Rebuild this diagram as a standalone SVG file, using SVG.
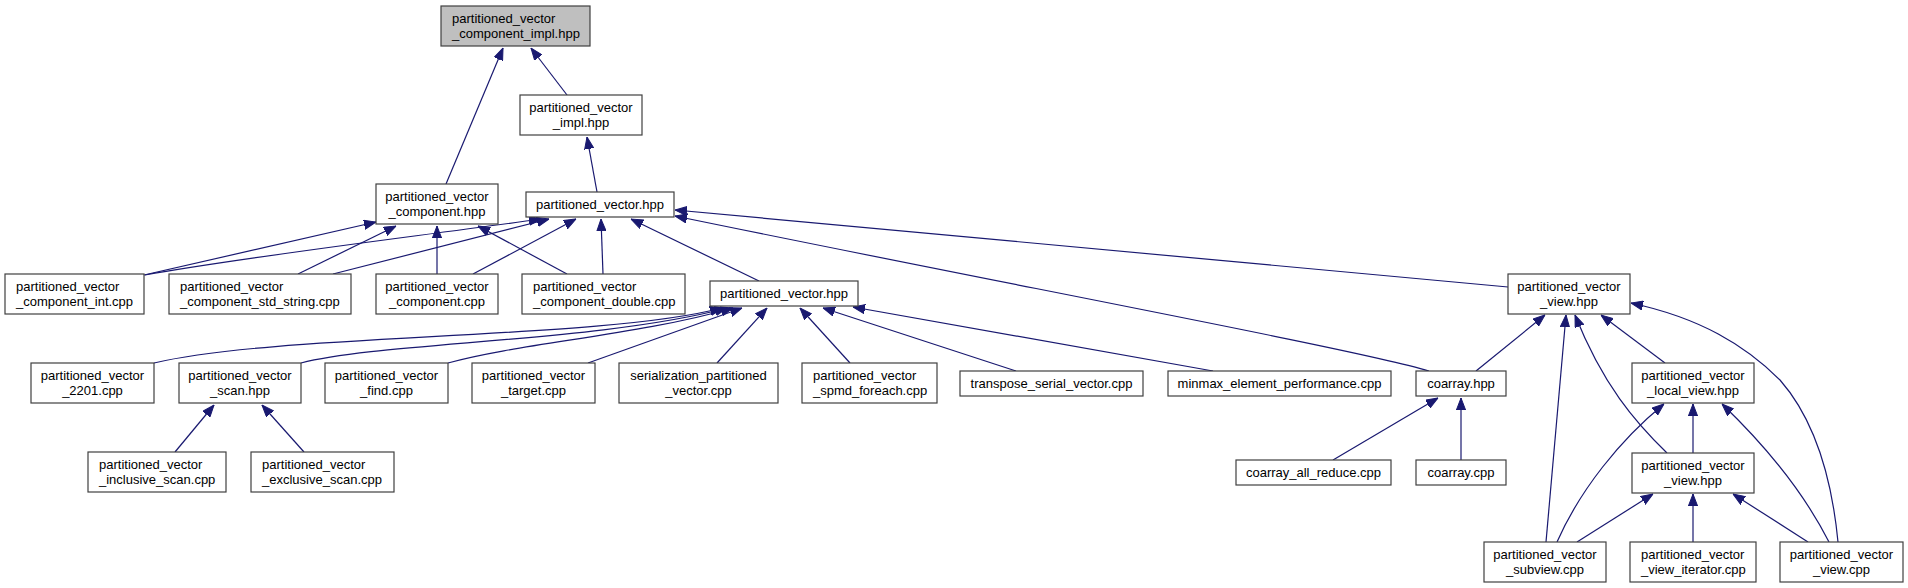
<svg xmlns="http://www.w3.org/2000/svg" width="1908" height="588" viewBox="0 0 1908 588">
<style>
.n rect{fill:#ffffff;stroke:#404040;stroke-width:1.2}
.n.root rect{fill:#bfbfbf}
.n text{font-family:"Liberation Sans",Arial,Helvetica,sans-serif;font-size:13px;fill:#000000}
.c{text-anchor:middle}
.l{text-anchor:start}
.e path{fill:none;stroke:#191970;stroke-width:1.2;marker-end:url(#ah)}
</style>
<defs>
<marker id="ah" markerUnits="userSpaceOnUse" viewBox="0 -5 12 10" refX="12" refY="0" markerWidth="12" markerHeight="10" orient="auto">
<path d="M0,-4.6 L12,0 L0,4.6 z" fill="#191970" stroke="#191970" stroke-width="1"/>
</marker>
</defs>
<rect x="0" y="0" width="1908" height="588" fill="#ffffff"/>
<g id="edges" class="e">
<path d="M446,184 L503,48"/>
<path d="M567,95 L531,48"/>
<path d="M597,192 L587,137"/>
<path d="M144,275 L376,222"/>
<path d="M298,274 L396,226"/>
<path d="M437,274 L437,226"/>
<path d="M567,274 L478,226"/>
<path d="M145,275 C250,256 420,236 541,219"/>
<path d="M333,274 L549,219"/>
<path d="M473,274 L576,219"/>
<path d="M603,274 L601,219"/>
<path d="M759,281 L631,219"/>
<path d="M1508,287 L675,210"/>
<path d="M1429,371 C1360,350 1000,283 675,216"/>
<path d="M154,363 C280,333 600,340 722,308"/>
<path d="M301,363 C380,342 600,342 727,308"/>
<path d="M448,363 C520,343 640,335 733,308"/>
<path d="M588,363 L742,308"/>
<path d="M717,363 L767,308"/>
<path d="M850,363 L800,308"/>
<path d="M1016,371 L823,308"/>
<path d="M1213,371 L853,307"/>
<path d="M175,452 L214,405"/>
<path d="M304,452 L262,405"/>
<path d="M1333,460 L1438,398"/>
<path d="M1461,460 L1461,398"/>
<path d="M1476,371 L1545,315"/>
<path d="M1546,542 L1566,315"/>
<path d="M1667,453 C1635,422 1603,385 1575,315"/>
<path d="M1665,363 L1601,315"/>
<path d="M1838,542 C1832,480 1815,420 1780,380 C1745,345 1700,318 1631,303"/>
<path d="M1557,542 C1580,490 1620,440 1664,404"/>
<path d="M1693,453 L1693,404"/>
<path d="M1829,542 C1805,495 1770,450 1722,404"/>
<path d="M1577,542 L1653,494"/>
<path d="M1693,542 L1693,494"/>
<path d="M1808,542 L1733,494"/>
</g>
<g id="n_root" class="n root"><rect x="441" y="6" width="149" height="40"/><text class="l" x="452" y="23">partitioned_vector</text><text class="l" x="452" y="37.5">_component_impl.hpp</text></g>
<g id="n_pv_impl" class="n"><rect x="520" y="95" width="122" height="40"/><text class="c" x="581" y="112">partitioned_vector</text><text class="c" x="581" y="126.5">_impl.hpp</text></g>
<g id="n_pv_component_hpp" class="n"><rect x="376" y="184" width="122" height="40"/><text class="c" x="437" y="201">partitioned_vector</text><text class="c" x="437" y="215.5">_component.hpp</text></g>
<g id="n_pv_hpp_a" class="n"><rect x="526" y="192" width="148" height="25"/><text class="c" x="600" y="209">partitioned_vector.hpp</text></g>
<g id="n_comp_int" class="n"><rect x="5" y="274" width="139" height="40"/><text class="l" x="16" y="291">partitioned_vector</text><text class="l" x="16" y="305.5">_component_int.cpp</text></g>
<g id="n_comp_std_string" class="n"><rect x="169" y="274" width="182" height="40"/><text class="l" x="180" y="291">partitioned_vector</text><text class="l" x="180" y="305.5">_component_std_string.cpp</text></g>
<g id="n_comp_cpp" class="n"><rect x="376" y="274" width="122" height="40"/><text class="c" x="437" y="291">partitioned_vector</text><text class="c" x="437" y="305.5">_component.cpp</text></g>
<g id="n_comp_double" class="n"><rect x="522" y="274" width="163" height="40"/><text class="l" x="533" y="291">partitioned_vector</text><text class="l" x="533" y="305.5">_component_double.cpp</text></g>
<g id="n_pv_hpp_b" class="n"><rect x="710" y="281" width="148" height="25"/><text class="c" x="784" y="298">partitioned_vector.hpp</text></g>
<g id="n_pv_view_hpp_a" class="n"><rect x="1508" y="274" width="122" height="40"/><text class="c" x="1569" y="291">partitioned_vector</text><text class="c" x="1569" y="305.5">_view.hpp</text></g>
<g id="n_2201" class="n"><rect x="31" y="363" width="123" height="40"/><text class="c" x="92.5" y="380">partitioned_vector</text><text class="c" x="92.5" y="394.5">_2201.cpp</text></g>
<g id="n_scan_hpp" class="n"><rect x="179" y="363" width="122" height="40"/><text class="c" x="240" y="380">partitioned_vector</text><text class="c" x="240" y="394.5">_scan.hpp</text></g>
<g id="n_find" class="n"><rect x="325" y="363" width="123" height="40"/><text class="c" x="386.5" y="380">partitioned_vector</text><text class="c" x="386.5" y="394.5">_find.cpp</text></g>
<g id="n_target" class="n"><rect x="472" y="363" width="123" height="40"/><text class="c" x="533.5" y="380">partitioned_vector</text><text class="c" x="533.5" y="394.5">_target.cpp</text></g>
<g id="n_serialization" class="n"><rect x="619" y="363" width="159" height="40"/><text class="c" x="698.5" y="380">serialization_partitioned</text><text class="c" x="698.5" y="394.5">_vector.cpp</text></g>
<g id="n_spmd" class="n"><rect x="802" y="363" width="135" height="40"/><text class="l" x="813" y="380">partitioned_vector</text><text class="l" x="813" y="394.5">_spmd_foreach.cpp</text></g>
<g id="n_transpose" class="n"><rect x="960" y="371" width="183" height="25"/><text class="c" x="1051.5" y="388">transpose_serial_vector.cpp</text></g>
<g id="n_minmax" class="n"><rect x="1168" y="371" width="223" height="25"/><text class="c" x="1279.5" y="388">minmax_element_performance.cpp</text></g>
<g id="n_coarray_hpp" class="n"><rect x="1416" y="371" width="90" height="25"/><text class="c" x="1461" y="388">coarray.hpp</text></g>
<g id="n_local_view" class="n"><rect x="1632" y="363" width="122" height="40"/><text class="c" x="1693" y="380">partitioned_vector</text><text class="c" x="1693" y="394.5">_local_view.hpp</text></g>
<g id="n_inclusive" class="n"><rect x="88" y="452" width="138" height="40"/><text class="l" x="99" y="469">partitioned_vector</text><text class="l" x="99" y="483.5">_inclusive_scan.cpp</text></g>
<g id="n_exclusive" class="n"><rect x="251" y="452" width="143" height="40"/><text class="l" x="262" y="469">partitioned_vector</text><text class="l" x="262" y="483.5">_exclusive_scan.cpp</text></g>
<g id="n_all_reduce" class="n"><rect x="1236" y="460" width="155" height="25"/><text class="c" x="1313.5" y="477">coarray_all_reduce.cpp</text></g>
<g id="n_coarray_cpp" class="n"><rect x="1416" y="460" width="90" height="25"/><text class="c" x="1461" y="477">coarray.cpp</text></g>
<g id="n_pv_view_hpp_b" class="n"><rect x="1632" y="453" width="122" height="40"/><text class="c" x="1693" y="470">partitioned_vector</text><text class="c" x="1693" y="484.5">_view.hpp</text></g>
<g id="n_subview" class="n"><rect x="1484" y="542" width="122" height="40"/><text class="c" x="1545" y="559">partitioned_vector</text><text class="c" x="1545" y="573.5">_subview.cpp</text></g>
<g id="n_view_iterator" class="n"><rect x="1630" y="542" width="126" height="40"/><text class="l" x="1641" y="559">partitioned_vector</text><text class="l" x="1641" y="573.5">_view_iterator.cpp</text></g>
<g id="n_view_cpp" class="n"><rect x="1780" y="542" width="123" height="40"/><text class="c" x="1841.5" y="559">partitioned_vector</text><text class="c" x="1841.5" y="573.5">_view.cpp</text></g>
</svg>
